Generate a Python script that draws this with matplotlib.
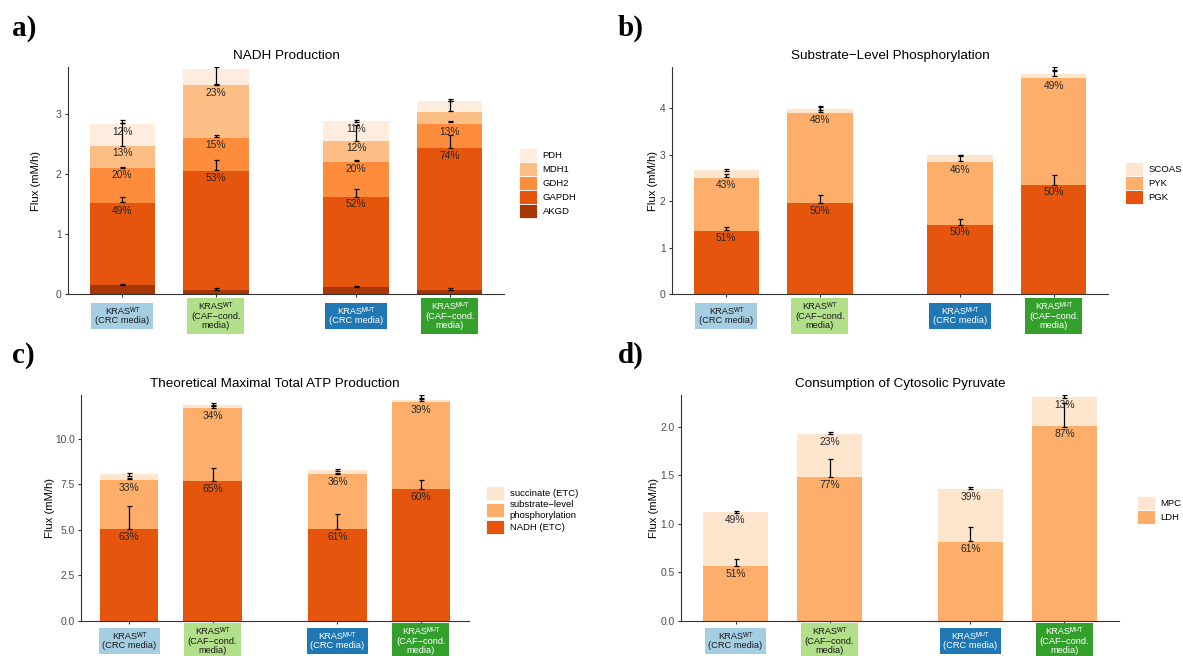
import matplotlib
matplotlib.use("Agg")
import matplotlib.pyplot as plt
from matplotlib.patches import Patch
import matplotlib.transforms as mtrans
import numpy as np

plt.rcParams['font.family'] = ['Liberation Sans', 'DejaVu Sans']

# ---------------- data ----------------
positions = [1, 2, 3.5, 4.5]
group_labels = [
    "KRAS\u1d42\u1d40\n(CRC media)",
    "KRAS\u1d42\u1d40\n(CAF\u2212cond.\nmedia)",
    "KRAS\u1d39\u1d41\u1d40\n(CRC media)",
    "KRAS\u1d39\u1d41\u1d40\n(CAF\u2212cond.\nmedia)",
]
group_colors = ['#a6cee3', '#b2df8a', '#1f78b4', '#33a02c']
group_text_colors = ['#1a1a1a', '#1a1a1a', 'white', 'white']

# Panel a: NADH Production (stack order bottom -> top)
a_names = ['AKGD', 'GAPDH', 'GDH2', 'MDH1', 'PDH']
a_colors = ['#a63603', '#e6550d', '#fd8d3c', '#fdbe85', '#feedde']
a_AKGD = [0.15, 0.07, 0.12, 0.07]
a_GAPDH = [1.36, 1.98, 1.50, 2.36]
a_GDH2 = [0.59, 0.55, 0.58, 0.40]
a_MDH1 = [0.37, 0.88, 0.35, 0.20]
a_PDH = [0.36, 0.27, 0.33, 0.18]
a_err_AKGD = [(0.15, 0.17), (0.07, 0.10), (0.12, 0.14), (0.07, 0.10)]
a_err_GAPDH = [(1.54, 1.61), (2.07, 2.23), (1.62, 1.75), (2.43, 2.64)]
a_err_GDH2 = [(2.09, 2.11), (2.62, 2.64), (2.21, 2.23), (2.86, 2.88)]
a_err_MDH1 = [(2.47, 2.85), (3.48, 3.50), (2.55, 2.82), (3.04, 3.21)]
a_err_PDH = [(2.84, 2.90), (3.48, 3.78), (2.87, 2.89), (3.21, 3.24)]
a_pct_AKGD = ['', '', '', '']
a_pct_GAPDH = ['49%', '53%', '52%', '74%']
a_pct_GDH2 = ['20%', '15%', '20%', '13%']
a_pct_MDH1 = ['13%', '23%', '12%', '']
a_pct_PDH = ['12%', '', '11%', '']

# Panel b: Substrate-Level Phosphorylation
b_names = ['PGK', 'PYK', 'SCOAS']
b_colors = ['#e6550d', '#fdae6b', '#fee6ce']
b_PGK = [1.36, 1.96, 1.49, 2.35]
b_PYK = [1.14, 1.94, 1.35, 2.30]
b_SCOAS = [0.17, 0.08, 0.15, 0.08]
b_err_PGK = [(1.38, 1.44), (1.97, 2.14), (1.49, 1.62), (2.35, 2.57)]
b_err_PYK = [(2.53, 2.59), (3.93, 4.06), (2.86, 3.00), (4.69, 4.82)]
b_err_SCOAS = [(2.65, 2.69), (3.97, 4.03), (2.97, 3.00), (4.80, 4.89)]
b_pct_PGK = ['51%', '50%', '50%', '50%']
b_pct_PYK = ['43%', '48%', '46%', '49%']
b_pct_SCOAS = ['', '', '', '']

# Panel c: Theoretical Maximal Total ATP Production
c_names = ['NADH (ETC)', 'substrate\u2212level\nphosphorylation', 'succinate (ETC)']
c_colors = ['#e6550d', '#fdae6b', '#fee6ce']
c_NADH = [5.03, 7.68, 5.03, 7.22]
c_SLP = [2.68, 3.98, 3.01, 4.77]
c_succ = [0.33, 0.17, 0.27, 0.16]
c_err_NADH = [(5.05, 6.30), (7.68, 8.37), (5.05, 5.88), (7.23, 7.71)]
c_err_SLP = [(7.79, 7.85), (11.70, 11.80), (8.06, 8.12), (12.05, 12.20)]
c_err_succ = [(7.98, 8.12), (11.85, 11.96), (8.25, 8.32), (12.25, 12.39)]
c_pct_NADH = ['63%', '65%', '61%', '60%']
c_pct_SLP = ['33%', '34%', '36%', '39%']
c_pct_succ = ['', '', '', '']

# Panel d: Consumption of Cytosolic Pyruvate
d_names = ['LDH', 'MPC']
d_colors = ['#fdae6b', '#fee6ce']
d_LDH = [0.563, 1.48, 0.815, 2.005]
d_MPC = [0.555, 0.44, 0.54, 0.295]
d_err_LDH = [(0.57, 0.64), (1.48, 1.67), (0.82, 0.97), (2.00, 2.24)]
d_err_MPC = [(1.115, 1.13), (1.92, 1.94), (1.355, 1.375), (2.29, 2.32)]
d_pct_LDH = ['51%', '77%', '61%', '87%']
d_pct_MPC = ['49%', '23%', '39%', '13%']

# ---------------- figure ----------------
W, H = 1183, 656
fig = plt.figure(figsize=(W / 100, H / 100), dpi=100)


def rect(l, r, t, b):
    return [l / W, 1 - b / H, (r - l) / W, (b - t) / H]


def panel(r, title, names, colors, values, errs, pcts, ymax, yticks,
          yticklabels, ylab_x, leg_xy, lab_off):
    ax = fig.add_axes(r)
    bottoms = np.zeros(len(positions))
    for vals, col, pc in zip(values, colors, pcts):
        vals = np.array(vals)
        ax.bar(positions, vals, bottom=bottoms, width=0.7, color=col,
               edgecolor='none', zorder=1)
        tops = bottoms + vals
        for x, t, p in zip(positions, tops, pc):
            if p:
                ax.annotate(p, (x, t), xytext=(0, -1.8),
                            textcoords='offset points', ha='center',
                            va='top', fontsize=7.4, color='#262626',
                            zorder=3)
        bottoms = tops
    for er in errs:
        lo = np.array([e[0] for e in er])
        hi = np.array([e[1] for e in er])
        ax.errorbar(positions, (lo + hi) / 2, yerr=(hi - lo) / 2, fmt='none',
                    ecolor='black', elinewidth=0.9, capsize=1.8,
                    capthick=0.9, zorder=4)
    ax.set_xlim(0.42, 5.08)
    ax.set_ylim(0, ymax)
    ax.set_yticks(yticks)
    ax.set_yticklabels(yticklabels)
    ax.set_xticks(positions)
    ax.set_xticklabels([''] * len(positions))
    for s in ['top', 'right']:
        ax.spines[s].set_visible(False)
    for s in ['left', 'bottom']:
        ax.spines[s].set_color('#333333')
        ax.spines[s].set_linewidth(0.8)
    ax.tick_params(axis='both', length=2.5, width=0.8, color='#333333',
                   labelsize=7.4, labelcolor='#4d4d4d', pad=2)
    ax.set_title(title, fontsize=9.7, pad=6, color='black')
    ax.set_ylabel('Flux (mM/h)', fontsize=8.1, color='black')
    ax.yaxis.set_label_coords(ylab_x, 0.5)
    trans = mtrans.offset_copy(ax.get_xaxis_transform(), fig=fig,
                               y=-lab_off, units='dots')
    for x, lab, bc, tc in zip(positions, group_labels, group_colors,
                              group_text_colors):
        ax.text(x, 0, lab, transform=trans, ha='center', va='center',
                multialignment='center', fontsize=6.7, color=tc,
                linespacing=1.1,
                bbox=dict(boxstyle='square,pad=0.4', facecolor=bc,
                          edgecolor='none'))
    handles = [Patch(facecolor=c, edgecolor='white', linewidth=0.6)
               for c in colors]
    ax.legend(handles[::-1], names[::-1], loc='center left',
              bbox_to_anchor=(leg_xy[0] / W, 1 - leg_xy[1] / H),
              bbox_transform=fig.transFigure, frameon=False, fontsize=6.8,
              handlelength=1.9, handleheight=1.9, labelspacing=0.0,
              handletextpad=0.6, borderpad=0, borderaxespad=0)
    return ax


panel(rect(68, 504, 67, 294), 'NADH Production', a_names, a_colors,
      [a_AKGD, a_GAPDH, a_GDH2, a_MDH1, a_PDH],
      [a_err_AKGD, a_err_GAPDH, a_err_GDH2, a_err_MDH1, a_err_PDH],
      [a_pct_AKGD, a_pct_GAPDH, a_pct_GDH2, a_pct_MDH1, a_pct_PDH],
      3.78, [0, 1, 2, 3], ['0', '1', '2', '3'], -0.063, (519, 183), 22)

panel(rect(672, 1108, 67, 294), 'Substrate\u2212Level Phosphorylation',
      b_names, b_colors, [b_PGK, b_PYK, b_SCOAS],
      [b_err_PGK, b_err_PYK, b_err_SCOAS],
      [b_pct_PGK, b_pct_PYK, b_pct_SCOAS],
      4.89, [0, 1, 2, 3, 4], ['0', '1', '2', '3', '4'], -0.033, (1125, 183),
      22)

panel(rect(81, 469, 395, 621), 'Theoretical Maximal Total ATP Production',
      c_names, c_colors, [c_NADH, c_SLP, c_succ],
      [c_err_NADH, c_err_SLP, c_err_succ],
      [c_pct_NADH, c_pct_SLP, c_pct_succ],
      12.4, [0, 2.5, 5, 7.5, 10], ['0.0', '2.5', '5.0', '7.5', '10.0'],
      -0.066, (486, 510), 20)

panel(rect(681, 1119, 395, 621), 'Consumption of Cytosolic Pyruvate',
      d_names, d_colors, [d_LDH, d_MPC], [d_err_LDH, d_err_MPC],
      [d_pct_LDH, d_pct_MPC],
      2.325, [0, 0.5, 1.0, 1.5, 2.0], ['0.0', '0.5', '1.0', '1.5', '2.0'],
      -0.051, (1137, 510), 20)

for lab, x, y in [('a)', 12, 36), ('b)', 618, 36), ('c)', 12, 363),
                  ('d)', 618, 363)]:
    fig.text(x / W, 1 - y / H, lab, fontsize=21, fontweight='bold',
             family='Liberation Serif', va='baseline', ha='left')

fig.savefig('out.png', dpi=100)
